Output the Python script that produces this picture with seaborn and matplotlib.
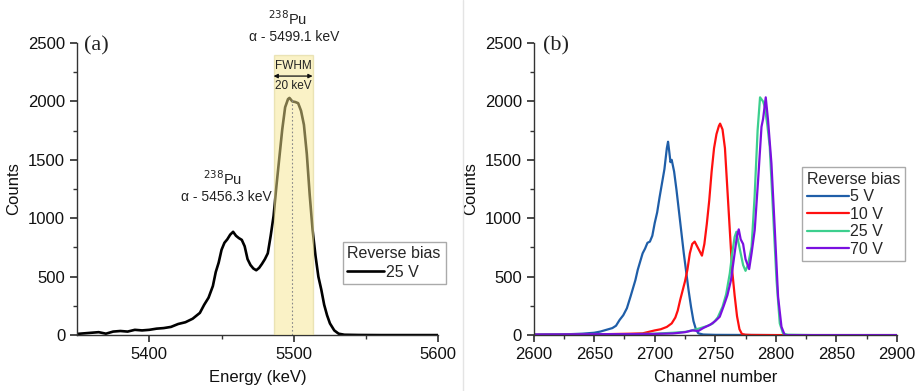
import numpy as np
import pandas as pd
import matplotlib
matplotlib.use("Agg")
import matplotlib.pyplot as plt
from matplotlib.lines import Line2D
import seaborn as sns

# ---------------- data ----------------
energy_kev = [5350, 5355, 5360, 5365, 5370, 5375, 5380, 5385, 5390, 5395, 5400, 5405,
              5410, 5415, 5420, 5425, 5430, 5435, 5438, 5441, 5444, 5446, 5448, 5450,
              5452, 5454, 5456, 5458, 5460, 5462, 5464, 5466, 5468, 5470, 5472, 5474,
              5476, 5478, 5480, 5482, 5484, 5486, 5488, 5490, 5492, 5494, 5496, 5497,
              5499, 5501, 5503, 5505, 5507, 5509, 5511, 5513, 5515, 5517, 5519, 5521,
              5523, 5525, 5528, 5531, 5535, 5545, 5560, 5580, 5600]
counts_25v_energy = [10, 15, 20, 25, 12, 30, 35, 30, 45, 40, 45, 55,
                     60, 70, 95, 110, 140, 190, 260, 320, 420, 540, 620, 730,
                     790, 820, 860, 884, 850, 830, 815, 760, 650, 600, 570, 555,
                     575, 610, 650, 700, 850, 1020, 1280, 1520, 1760, 1950, 2020, 2030,
                     2000, 1995, 1985, 1920, 1800, 1550, 1200, 900, 680, 500, 390, 260,
                     170, 100, 40, 12, 3, 1, 0, 0, 0]

ch_5v = [2600, 2610, 2620, 2630, 2640, 2650, 2655, 2660, 2665, 2668, 2671, 2674, 2677,
         2680, 2682, 2684, 2686, 2688, 2690, 2692, 2694, 2696, 2698, 2700, 2702, 2704,
         2706, 2708, 2710, 2711, 2712, 2713, 2714, 2716, 2718, 2720, 2722, 2724, 2726,
         2728, 2730, 2732, 2734, 2736, 2740, 2750, 2800, 2900]
counts_5v = [3, 5, 5, 8, 12, 20, 30, 45, 60, 80, 130, 170, 230,
             330, 400, 470, 560, 630, 700, 740, 790, 800, 850, 960, 1050, 1180,
             1300, 1420, 1600, 1655, 1570, 1480, 1500, 1400, 1240, 1060, 880, 700, 540,
             380, 240, 120, 50, 15, 5, 2, 0, 0]

ch_10v = [2600, 2620, 2640, 2660, 2680, 2690, 2700, 2705, 2710, 2714, 2717, 2719, 2721,
          2723, 2725, 2727, 2729, 2731, 2733, 2735, 2737, 2739, 2741, 2743, 2745, 2747,
          2749, 2751, 2753, 2754, 2756, 2758, 2760, 2762, 2764, 2766, 2768, 2770, 2772,
          2775, 2780, 2800, 2900]
counts_10v = [2, 3, 5, 8, 12, 15, 40, 50, 70, 100, 150, 210, 300,
              380, 460, 560, 700, 780, 800, 760, 720, 680, 780, 950, 1150, 1400,
              1600, 1720, 1790, 1810, 1760, 1600, 1250, 900, 550, 340, 160, 50, 10,
              3, 1, 0, 0]

ch_25v = [2600, 2620, 2640, 2660, 2680, 2700, 2715, 2726, 2737, 2744, 2748, 2752, 2756,
          2759, 2762, 2764, 2766, 2767.5, 2769, 2771, 2773, 2775, 2777, 2780, 2782.5,
          2785, 2787, 2789.5, 2791, 2793, 2795, 2797.8, 2800.6, 2803.3, 2806, 2810,
          2830, 2900]
counts_25v = [3, 4, 5, 6, 8, 12, 20, 28, 57, 80, 100, 150, 242,
              350, 528, 700, 840, 885, 800, 700, 600, 550, 600, 756, 1184,
              1755, 2035, 2000, 1950, 1800, 1612, 1042, 471, 100, 14, 3,
              0, 0]

ch_70v = [2600, 2620, 2640, 2660, 2680, 2700, 2715, 2725, 2731, 2736, 2740, 2746, 2750,
          2753.7, 2757, 2760, 2763, 2766, 2768, 2769.4, 2771, 2773, 2775, 2778, 2780,
          2782.6, 2785.4, 2788.2, 2789.5, 2791.7, 2793.6, 2796.4, 2799.2, 2801.9,
          2804.7, 2807.4, 2830, 2900]
counts_70v = [5, 6, 7, 8, 8, 10, 14, 25, 40, 35, 60, 90, 120,
              157, 250, 340, 471, 700, 850, 905, 820, 780, 650, 565, 700,
              900, 1327, 1783, 1850, 2035, 1840, 1470, 900, 328,
              71, 0, 0, 0]

bias_labels = ["5 V", "10 V", "25 V", "70 V"]
bias_colors = ["#1f5ea8", "#ff1010", "#3ccf8e", "#7a10e0"]

# ---------------- frames ----------------
df_a = pd.DataFrame({"Energy (keV)": energy_kev, "Counts": counts_25v_energy,
                     "Reverse bias": "25 V"})
df_b = pd.concat([
    pd.DataFrame({"Channel number": ch_5v, "Counts": counts_5v, "Reverse bias": "5 V"}),
    pd.DataFrame({"Channel number": ch_10v, "Counts": counts_10v, "Reverse bias": "10 V"}),
    pd.DataFrame({"Channel number": ch_25v, "Counts": counts_25v, "Reverse bias": "25 V"}),
    pd.DataFrame({"Channel number": ch_70v, "Counts": counts_70v, "Reverse bias": "70 V"}),
], ignore_index=True)

# ---------------- style ----------------
sns.set_theme(style="ticks")
plt.rcParams["font.family"] = ["Liberation Sans", "DejaVu Sans"]
plt.rcParams.update({
    "axes.edgecolor": "#333333",
    "axes.linewidth": 1.0,
    "xtick.color": "#333333",
    "ytick.color": "#333333",
    "xtick.labelcolor": "#111111",
    "ytick.labelcolor": "#111111",
    "axes.labelcolor": "#111111",
    "xtick.labelsize": 12,
    "ytick.labelsize": 12,
    "axes.labelsize": 12,
    "xtick.major.size": 5,
    "ytick.major.size": 5,
    "xtick.minor.size": 3,
    "ytick.minor.size": 3,
    "xtick.direction": "out",
    "ytick.direction": "out",
})

fig = plt.figure(figsize=(9.17, 3.91), dpi=100)
ax1 = fig.add_axes([0.084, 0.143, 0.394, 0.747])
ax2 = fig.add_axes([0.582, 0.143, 0.396, 0.747])

# faint separator between panels
fig.add_artist(Line2D([463 / 917, 463 / 917], [0.0, 1.0], color="#e4e4e4", lw=1.0))

# ---------------- panel (a) ----------------
sns.lineplot(data=df_a, x="Energy (keV)", y="Counts", hue="Reverse bias",
             palette=["black"], lw=1.9, ax=ax1, sort=False, zorder=2)
ax1.axvspan(5486, 5513, ymin=0, ymax=2400 / 2500, facecolor="#f6e78e", alpha=0.5,
            edgecolor="#d9cf8a", lw=1.0, zorder=3)
ax1.plot([5499, 5499], [0, 2010], ls=(0, (1.5, 2.0)), color="#888888", lw=0.8, zorder=4)
ax1.set_xlim(5350, 5600)
ax1.set_ylim(0, 2500)
ax1.set_xticks([5400, 5500, 5600])
ax1.set_xticks([5450, 5550], minor=True)
ax1.set_yticks([0, 500, 1000, 1500, 2000, 2500])
ax1.set_yticks([250, 750, 1250, 1750, 2250], minor=True)
ax1.set_xlabel("Energy (keV)", labelpad=6)
ax1.set_ylabel("Counts", labelpad=5)
for s in ["top", "right"]:
    ax1.spines[s].set_visible(False)

ax1.text(5355, 2475, "(a)", family=["Liberation Serif", "DejaVu Serif"], fontsize=16,
         ha="left", va="center", color="#222222")
ax1.text(5496, 2706, r"$^{238}$Pu", ha="center", va="center", fontsize=10.5,
         color="#222222", clip_on=False)
ax1.text(5500.5, 2551, "α - 5499.1 keV", ha="center", va="center", fontsize=10,
         color="#222222", clip_on=False)
ax1.text(5451, 1336, r"$^{238}$Pu", ha="center", va="center", fontsize=10.5,
         color="#222222")
ax1.text(5453, 1182, "α - 5456.3 keV", ha="center", va="center", fontsize=10,
         color="#222222")
ax1.text(5499.5, 2300, "FWHM", ha="center", va="center", fontsize=8.5, color="#222222",
         zorder=5)
ax1.text(5499.5, 2135, "20 keV", ha="center", va="center", fontsize=8.5, color="#222222",
         zorder=5)
ax1.annotate("", xy=(5486, 2217), xytext=(5513, 2217),
             arrowprops=dict(arrowstyle="<|-|>", color="#111111", lw=0.9,
                             mutation_scale=6, shrinkA=0, shrinkB=0), zorder=5)

leg1 = ax1.legend(title="Reverse bias", loc="upper left", bbox_to_anchor=(0.735, 0.32),
                  frameon=True, fancybox=False, framealpha=1, edgecolor="#aaaaaa",
                  fontsize=11.5, title_fontsize=11.5, handlelength=2.3, handletextpad=0.1,
                  borderpad=0.3, labelspacing=0.2, borderaxespad=0, alignment="left")
leg1.get_frame().set_linewidth(1.0)

# ---------------- panel (b) ----------------
sns.lineplot(data=df_b, x="Channel number", y="Counts", hue="Reverse bias",
             hue_order=bias_labels, palette=bias_colors, lw=1.6, ax=ax2, sort=False)
ax2.set_xlim(2600, 2900)
ax2.set_ylim(0, 2500)
ax2.set_xticks([2600, 2650, 2700, 2750, 2800, 2850, 2900])
ax2.set_xticks(np.arange(2625, 2900, 50), minor=True)
ax2.set_yticks([0, 500, 1000, 1500, 2000, 2500])
ax2.set_yticks([250, 750, 1250, 1750, 2250], minor=True)
ax2.set_xlabel("Channel number", labelpad=6)
ax2.set_ylabel("Counts", labelpad=5)
for s in ["top", "right"]:
    ax2.spines[s].set_visible(False)
ax2.text(2608, 2475, "(b)", family=["Liberation Serif", "DejaVu Serif"], fontsize=16,
         ha="left", va="center", color="#222222")

leg2 = ax2.legend(title="Reverse bias", loc="upper left", bbox_to_anchor=(0.74, 0.575),
                  frameon=True, fancybox=False, framealpha=1, edgecolor="#aaaaaa",
                  fontsize=11.5, title_fontsize=11.5, handlelength=2.6, handletextpad=0.1,
                  borderpad=0.3, labelspacing=0.15, borderaxespad=0, alignment="left")
leg2.get_frame().set_linewidth(1.0)

fig.savefig("out.png", dpi=100)
